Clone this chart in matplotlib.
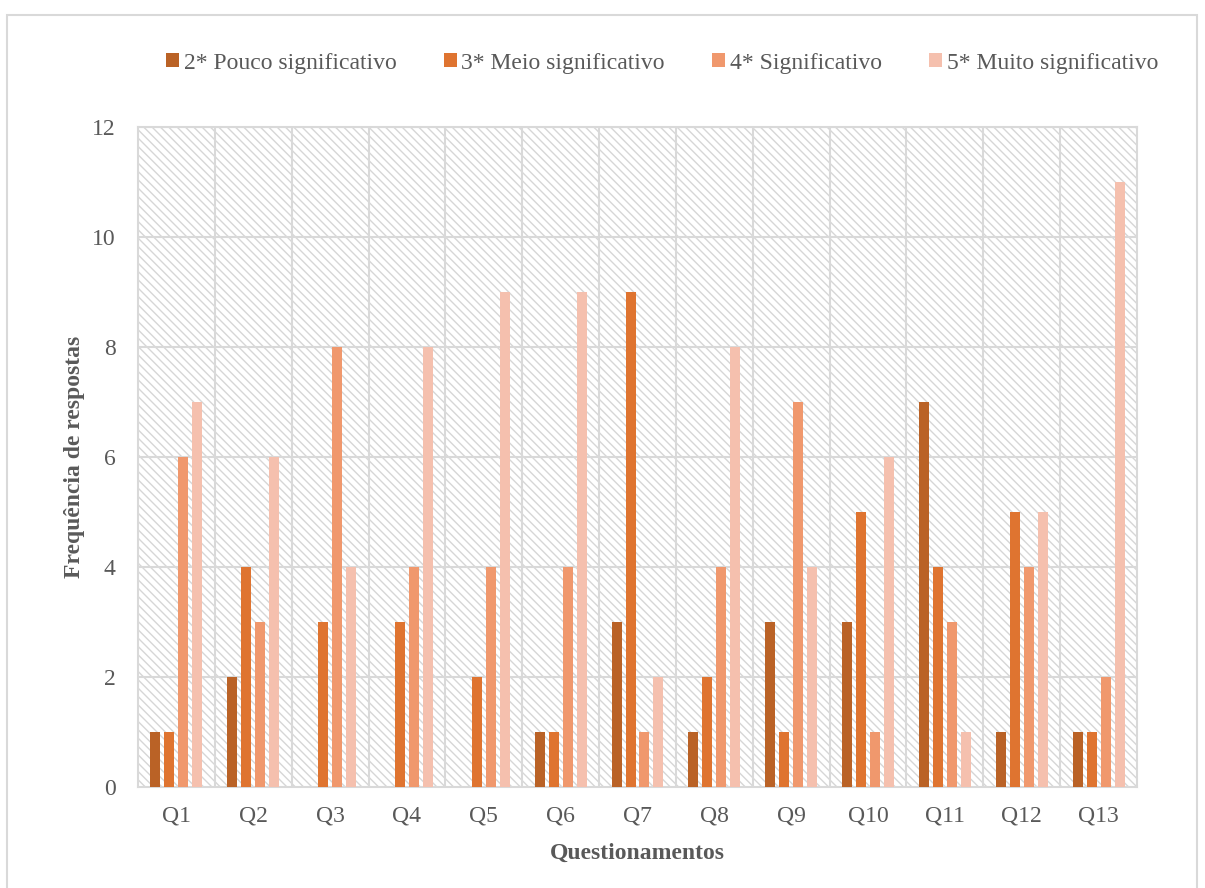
import matplotlib.pyplot as plt
from matplotlib.patches import Rectangle, Patch
import numpy as np

plt.rcParams['font.family'] = ['Liberation Serif', 'DejaVu Serif']
plt.rcParams['hatch.linewidth'] = 1.0

questoes = ['Q1', 'Q2', 'Q3', 'Q4', 'Q5', 'Q6', 'Q7', 'Q8', 'Q9', 'Q10', 'Q11', 'Q12', 'Q13']
series_labels = ['2* Pouco significativo', '3* Meio significativo',
                 '4* Significativo', '5* Muito significativo']
pouco = [1, 2, 0, 0, 0, 1, 3, 1, 3, 3, 7, 1, 1]
meio = [1, 4, 3, 3, 2, 1, 9, 2, 1, 5, 4, 5, 1]
signif = [6, 3, 8, 4, 4, 4, 1, 4, 7, 1, 3, 4, 2]
muito = [7, 6, 4, 8, 9, 9, 2, 8, 4, 6, 1, 5, 11]

colors = ['#BA6226', '#DF7430', '#F0986D', '#F5C0AE']
grid_col = '#D9D9D9'
text_col = '#595959'

fig = plt.figure(figsize=(12.05, 8.88), dpi=100)
ax = fig.add_axes([138 / 1205, 1 - 787 / 888, 999 / 1205, 660 / 888])

# hatched plot area background
bg = Rectangle((0, 0), 1, 1, transform=ax.transAxes, facecolor='white',
               edgecolor='#D6D6D6', hatch='\\\\\\\\', lw=0, zorder=0)
ax.add_patch(bg)

x = np.arange(len(questoes))
step = 0.182
width = 0.13
for i, (vals, lab, c) in enumerate(zip([pouco, meio, signif, muito], series_labels, colors)):
    ax.bar(x + (i - 1.5) * step, vals, width, color=c, label=lab, zorder=3)

ax.set_xlim(-0.5, len(questoes) - 0.5)
ax.set_ylim(0, 12)
ax.set_yticks(np.arange(0, 13, 2))
ax.set_xticks(x)
ax.set_xticklabels(questoes)

# gridlines: horizontal at major ticks, vertical between categories
for y in np.arange(2, 13, 2):
    ax.axhline(y, color=grid_col, lw=1.5, zorder=1)
for xb in np.arange(0.5, len(questoes) - 0.5, 1):
    ax.axvline(xb, color=grid_col, lw=1.5, zorder=1)

for s in ax.spines.values():
    s.set_color(grid_col)
    s.set_linewidth(1.5)

ax.tick_params(length=0, labelsize=17, colors=text_col)
ax.tick_params(axis='y', pad=16)
ax.tick_params(axis='x', pad=13)

ax.set_xlabel('Questionamentos', fontsize=17, fontweight='bold', color=text_col, labelpad=12)
ax.set_ylabel('Frequência de respostas', fontsize=17, fontweight='bold', color=text_col, labelpad=5)

handles = [Patch(facecolor=c, edgecolor='none') for c in colors]
fig.legend(handles, series_labels, loc='center', bbox_to_anchor=(662 / 1205, 1 - 63 / 888),
           ncol=4, frameon=False, fontsize=17, labelcolor=text_col,
           handlelength=0.55, handleheight=0.55, handletextpad=0.2, columnspacing=2.0)

# outer chart border
fig.add_artist(Rectangle((7 / 1205, -0.1), 1190 / 1205, 1.1 - 15 / 888,
                         transform=fig.transFigure, fill=False, edgecolor=grid_col, lw=1.5))

fig.savefig('out.png', dpi=100)
